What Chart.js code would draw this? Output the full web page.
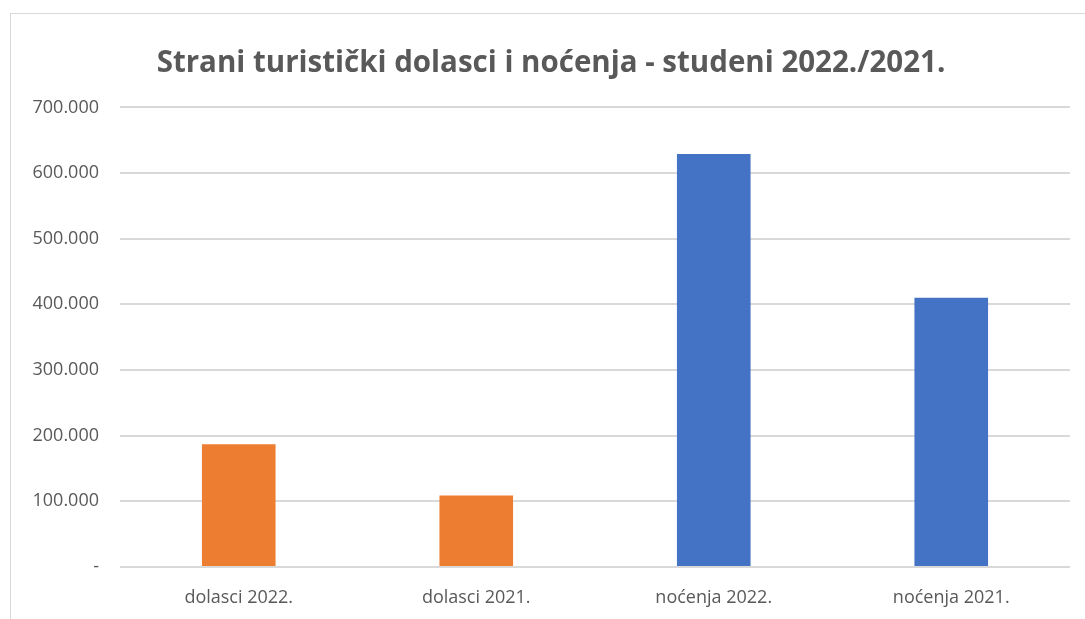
<!DOCTYPE html>
<html>
<head>
<meta charset="utf-8">
<script src="https://cdn.jsdelivr.net/npm/chart.js@4.4.0/dist/chart.umd.min.js"></script>
<style>
  html, body { margin: 0; padding: 0; background: #fff; overflow: hidden; }
  #frame { position: absolute; left: 10px; top: 13px; width: 1200px; height: 800px; border: 1px solid #d9d9d9; }
  #wrap { position: absolute; left: 0; top: 0; width: 1085px; height: 619px; }
</style>
</head>
<body>
<div id="frame"></div>
<div id="wrap"><canvas id="chart"></canvas></div>
<script>
// --- chart data ---
const categories = ['dolasci 2022.', 'dolasci 2021.', 'noćenja 2022.', 'noćenja 2021.'];
const values = [187000, 109000, 629000, 410000];
const yTicks = [0, 100000, 200000, 300000, 400000, 500000, 600000, 700000];

// orange for arrivals, blue for nights
const barColors = ['#ED7D31', '#ED7D31', '#4472C4', '#4472C4'];
const textColor = '#595959';

function fmtThousands(v) {
  if (v === 0) return '-';
  return String(v).replace(/\B(?=(\d{3})+(?!\d))/g, '.');
}

const ctx = document.getElementById('chart').getContext('2d');
new Chart(ctx, {
  type: 'bar',
  data: {
    labels: categories,
    datasets: [{
      data: values,
      backgroundColor: barColors,
      borderWidth: 0,
      categoryPercentage: 1,
      barPercentage: 0.31
    }]
  },
  options: {
    responsive: true,
    maintainAspectRatio: false,
    animation: false,
    layout: { padding: { top: 46, right: 15, left: 32, bottom: 12 } },
    plugins: {
      legend: { display: false },
      tooltip: { enabled: false },
      title: {
        display: true,
        text: 'Strani turistički dolasci i noćenja - studeni 2022./2021.',
        color: textColor,
        font: { family: 'Open Sans', size: 29.5, weight: 'bold' },
        padding: { top: 0, bottom: 26 }
      }
    },
    scales: {
      x: {
        grid: { display: false },
        border: { display: false },
        afterFit: (scale) => { scale.height = 40; },
        ticks: {
          color: textColor,
          font: { family: 'Open Sans', size: 18 },
          padding: 12,
          maxRotation: 0
        }
      },
      y: {
        min: 0,
        max: 700000,
        afterBuildTicks: (scale) => { scale.ticks = yTicks.map(v => ({ value: v })); },
        afterFit: (scale) => { scale.width = 88; },
        grid: { color: '#d9d9d9', lineWidth: 2, drawTicks: false },
        border: { display: false },
        ticks: {
          color: textColor,
          font: { family: 'Open Sans', size: 18 },
          padding: 21,
          callback: (v) => fmtThousands(v)
        }
      }
    }
  }
});
</script>
</body>
</html>
